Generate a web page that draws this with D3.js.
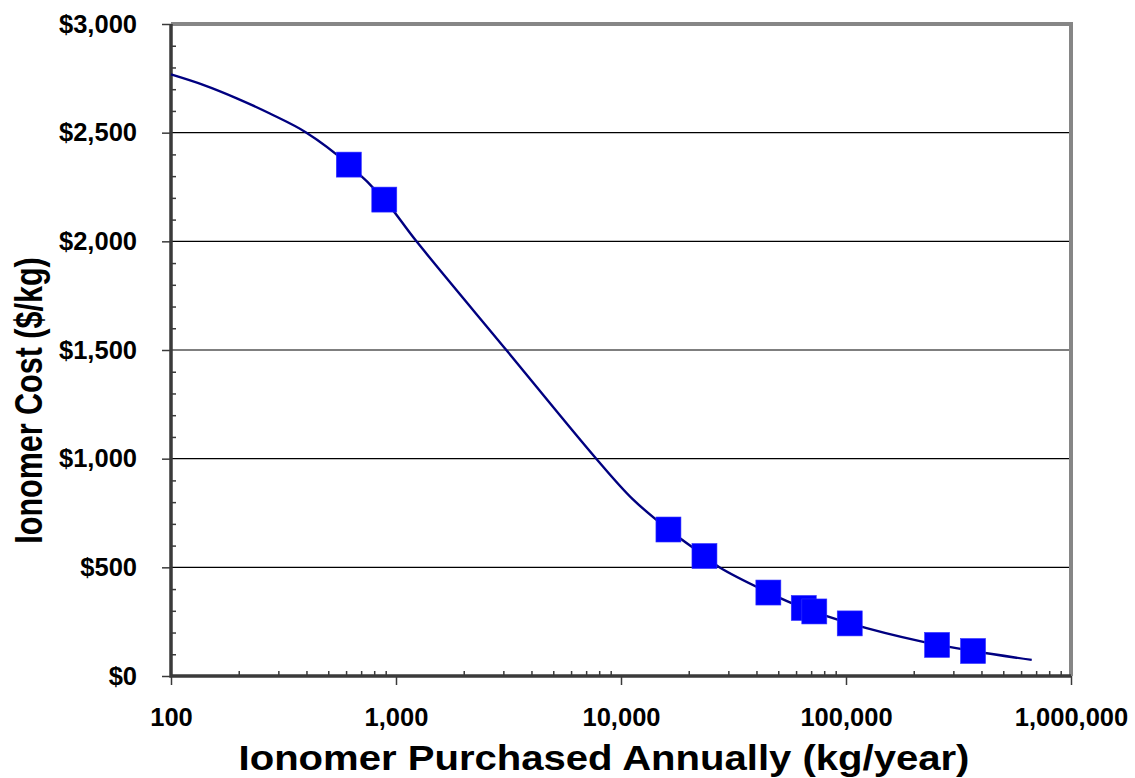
<!DOCTYPE html>
<html>
<head>
<meta charset="utf-8">
<script src="https://cdn.jsdelivr.net/npm/d3@7"></script>
<style>
  html, body { margin: 0; padding: 0; background: #ffffff; }
  svg { display: block; }
  text { font-family: "Liberation Sans", Arial, sans-serif; font-weight: bold; fill: #000; }
</style>
</head>
<body>
<script>
// ---- data ----
const purchased = [617, 887, 16250, 23490, 45180, 64900, 72300, 103900, 254000, 367000];
const cost      = [2353, 2192, 674, 552, 384, 313, 297, 242, 143, 115];

const curveX = [100, 139, 196, 275, 400, 617, 887, 1233, 3092, 7762, 11270, 16250, 23490, 27370, 45180, 64900, 103900, 218000, 367000, 669000];
const curveY = [2768, 2720, 2658, 2588, 2500, 2353, 2192, 2000, 1500, 1000, 814, 674, 552, 500, 384, 313, 242, 158, 115, 74];

const xTicks = [100, 1000, 10000, 100000, 1000000];
const yTicks = [0, 500, 1000, 1500, 2000, 2500, 3000];

const xTitle = "Ionomer Purchased Annually (kg/year)";
const yTitle = "Ionomer Cost ($/kg)";

// ---- layout ----
const W = 1135, H = 778;
const L = 171, R = 1071, T = 24, B = 676;

const svg = d3.select("body").append("svg").attr("width", W).attr("height", H);
svg.append("rect").attr("width", W).attr("height", H).attr("fill", "#fff");

const x = d3.scaleLog().domain([100, 1000000]).range([L, R]);
const y = d3.scaleLinear().domain([0, 3000]).range([B, T]);

// gridlines
svg.append("g").selectAll("line").data(yTicks.filter(d => d > 0 && d < 3000)).join("line")
  .attr("x1", L).attr("x2", R).attr("y1", d => y(d)).attr("y2", d => y(d))
  .attr("stroke", "#000").attr("stroke-width", 1.2);

// top & right border (gray)
svg.append("path")
  .attr("d", `M${L},${T}H${R}V${B}`)
  .attr("fill", "none").attr("stroke", "#868686").attr("stroke-width", 4);

// minor ticks
const xMinor = [];
for (let e = 2; e < 6; e++) for (let m = 2; m <= 9; m++) xMinor.push(m * Math.pow(10, e));
const yMinor = d3.range(0, 3001, 100).filter(d => d % 500 !== 0);

const axColor = "#3a3a3a";

const gxMinor = svg.append("g").attr("transform", `translate(0,${B})`)
  .call(d3.axisTop(x).tickValues(xMinor).tickSize(5).tickSizeOuter(0).tickFormat(""));
const gyMinor = svg.append("g").attr("transform", `translate(${L},0)`)
  .call(d3.axisRight(y).tickValues(yMinor).tickSize(5).tickSizeOuter(0).tickFormat(""));

const gx = svg.append("g").attr("transform", `translate(0,${B})`)
  .call(d3.axisBottom(x).tickValues(xTicks).tickSize(9).tickSizeOuter(0).tickPadding(23)
    .tickFormat(d3.format(",")));
const gy = svg.append("g").attr("transform", `translate(${L},0)`)
  .call(d3.axisLeft(y).tickValues(yTicks).tickSize(9).tickSizeOuter(0).tickPadding(25)
    .tickFormat(d => "$" + d3.format(",")(d)));

[gxMinor, gyMinor, gx, gy].forEach(g => {
  g.selectAll(".domain").remove();
  g.selectAll(".tick line").attr("stroke", axColor).attr("stroke-width", 1.5);
});
[gx, gy].forEach(g => g.selectAll("text")
  .attr("font-size", 25.5).attr("font-family", "Liberation Sans, Arial, sans-serif")
  .attr("font-weight", "bold").attr("fill", "#000"));

// axis lines (left & bottom)
svg.append("path")
  .attr("d", `M${L},${T}V${B}H${R}`)
  .attr("fill", "none").attr("stroke", axColor).attr("stroke-width", 3.5);

// fitted curve
const curvePts = curveX.map((v, i) => [x(v), y(curveY[i])]);
svg.append("path")
  .attr("d", d3.line().curve(d3.curveCatmullRom.alpha(0.5))(curvePts))
  .attr("fill", "none").attr("stroke", "#000080").attr("stroke-width", 2.4);

// markers
const S = 25;
svg.append("g").selectAll("rect").data(purchased).join("rect")
  .attr("x", (d) => x(d) - S / 2)
  .attr("y", (d, i) => y(cost[i]) - S / 2)
  .attr("width", S).attr("height", S)
  .attr("fill", "#0000ff").attr("stroke", "#3333ff").attr("stroke-width", 0.6);

// axis titles
svg.append("text").attr("transform", "translate(604,770) scale(1.145,1)")
  .attr("text-anchor", "middle").attr("font-size", 35).text(xTitle);
svg.append("text").attr("transform", "translate(42,400.5) rotate(-90) scale(1,1.25)")
  .attr("text-anchor", "middle").attr("font-size", 30.5).text(yTitle);
</script>
</body>
</html>
